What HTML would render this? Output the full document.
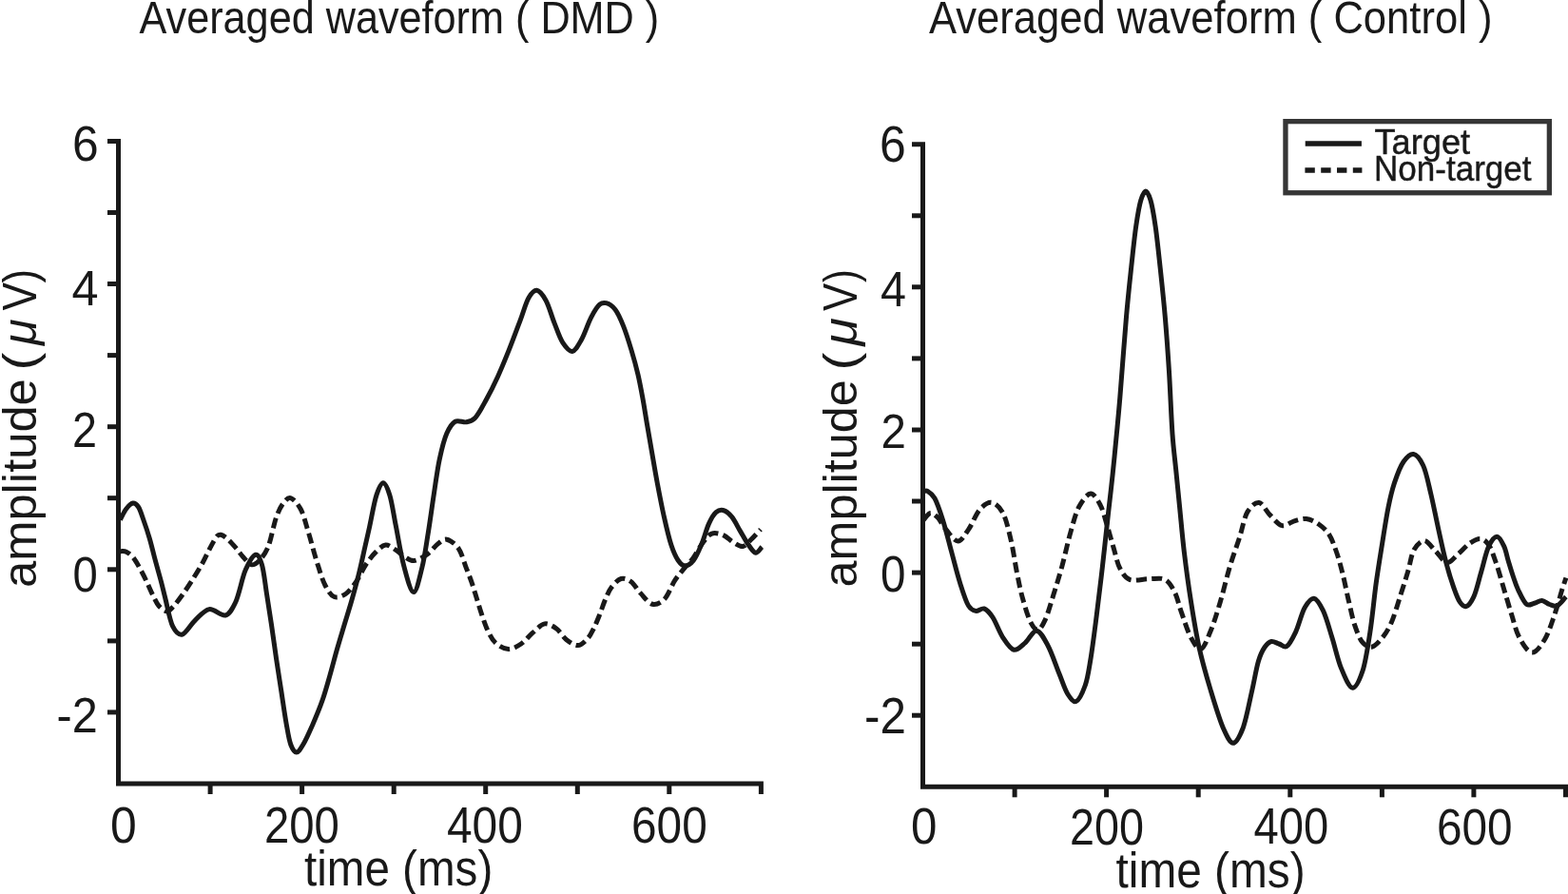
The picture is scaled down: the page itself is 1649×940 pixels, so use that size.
<!DOCTYPE html>
<html><head><meta charset="utf-8"><title>Averaged waveform</title>
<style>
html,body{margin:0;padding:0;background:#fff;}
body{width:1649px;height:940px;overflow:hidden;}
svg{display:block;}
text{font-family:"Liberation Sans",Arial,sans-serif;fill:#191919;}
</style></head><body>
<svg width="1649" height="940" viewBox="0 0 1649 940">
<rect width="1649" height="940" fill="#fff"/>
<path d="M113.0,148.4 H124.5 V824.0 H800.4 V835.0" fill="none" stroke="#191919" stroke-width="5.0" stroke-linejoin="miter" stroke-linecap="butt"/>
<line x1="113.0" y1="223.5" x2="124.5" y2="223.5" stroke="#191919" stroke-width="5.0"/>
<line x1="113.0" y1="298.5" x2="124.5" y2="298.5" stroke="#191919" stroke-width="5.0"/>
<line x1="113.0" y1="373.6" x2="124.5" y2="373.6" stroke="#191919" stroke-width="5.0"/>
<line x1="113.0" y1="448.7" x2="124.5" y2="448.7" stroke="#191919" stroke-width="5.0"/>
<line x1="113.0" y1="523.7" x2="124.5" y2="523.7" stroke="#191919" stroke-width="5.0"/>
<line x1="113.0" y1="598.8" x2="124.5" y2="598.8" stroke="#191919" stroke-width="5.0"/>
<line x1="113.0" y1="673.9" x2="124.5" y2="673.9" stroke="#191919" stroke-width="5.0"/>
<line x1="113.0" y1="748.9" x2="124.5" y2="748.9" stroke="#191919" stroke-width="5.0"/>
<line x1="221.1" y1="824.0" x2="221.1" y2="835.0" stroke="#191919" stroke-width="5.0"/>
<line x1="317.6" y1="824.0" x2="317.6" y2="835.0" stroke="#191919" stroke-width="5.0"/>
<line x1="414.2" y1="824.0" x2="414.2" y2="835.0" stroke="#191919" stroke-width="5.0"/>
<line x1="510.7" y1="824.0" x2="510.7" y2="835.0" stroke="#191919" stroke-width="5.0"/>
<line x1="607.3" y1="824.0" x2="607.3" y2="835.0" stroke="#191919" stroke-width="5.0"/>
<line x1="703.8" y1="824.0" x2="703.8" y2="835.0" stroke="#191919" stroke-width="5.0"/>
<path d="M959.0,151.7 H970.5 V827.3 H1646.5 V838.3" fill="none" stroke="#191919" stroke-width="5.0" stroke-linejoin="miter" stroke-linecap="butt"/>
<line x1="959.0" y1="226.8" x2="970.5" y2="226.8" stroke="#191919" stroke-width="5.0"/>
<line x1="959.0" y1="301.8" x2="970.5" y2="301.8" stroke="#191919" stroke-width="5.0"/>
<line x1="959.0" y1="376.9" x2="970.5" y2="376.9" stroke="#191919" stroke-width="5.0"/>
<line x1="959.0" y1="452.0" x2="970.5" y2="452.0" stroke="#191919" stroke-width="5.0"/>
<line x1="959.0" y1="527.0" x2="970.5" y2="527.0" stroke="#191919" stroke-width="5.0"/>
<line x1="959.0" y1="602.1" x2="970.5" y2="602.1" stroke="#191919" stroke-width="5.0"/>
<line x1="959.0" y1="677.2" x2="970.5" y2="677.2" stroke="#191919" stroke-width="5.0"/>
<line x1="959.0" y1="752.2" x2="970.5" y2="752.2" stroke="#191919" stroke-width="5.0"/>
<line x1="1067.1" y1="827.3" x2="1067.1" y2="838.3" stroke="#191919" stroke-width="5.0"/>
<line x1="1163.6" y1="827.3" x2="1163.6" y2="838.3" stroke="#191919" stroke-width="5.0"/>
<line x1="1260.2" y1="827.3" x2="1260.2" y2="838.3" stroke="#191919" stroke-width="5.0"/>
<line x1="1356.8" y1="827.3" x2="1356.8" y2="838.3" stroke="#191919" stroke-width="5.0"/>
<line x1="1453.4" y1="827.3" x2="1453.4" y2="838.3" stroke="#191919" stroke-width="5.0"/>
<line x1="1549.9" y1="827.3" x2="1549.9" y2="838.3" stroke="#191919" stroke-width="5.0"/>
<path d="M126.4,579.6 C128.53,579.80 130.58,579.16 132.8,580.2 C135.23,581.33 137.95,583.60 140.4,586.6 C143.06,589.85 145.74,595.13 148.1,599.4 C150.44,603.63 152.38,607.67 154.5,612.1 C156.65,616.60 158.77,621.98 160.9,626.2 C162.94,630.24 164.53,634.21 167.0,637.0 C169.37,639.68 172.76,642.70 175.3,642.8 C177.74,642.89 179.40,640.66 182.0,638.0 C185.01,634.92 188.91,629.54 192.5,624.5 C196.24,619.25 200.47,612.64 204.0,607.0 C207.45,601.49 210.57,596.34 213.5,591.0 C216.40,585.71 218.94,579.76 221.5,575.1 C223.92,570.69 226.57,565.60 228.5,563.6 C230.02,562.03 230.74,561.99 232.3,562.3 C234.06,562.65 236.31,564.18 238.7,566.2 C241.38,568.46 244.82,572.40 247.7,575.7 C250.59,579.00 253.13,582.96 256.0,586.0 C258.80,588.97 261.95,593.25 264.7,593.8 C267.26,594.31 269.40,592.58 272.0,590.0 C275.01,587.00 278.76,582.60 281.7,575.7 C285.05,567.84 287.70,551.78 290.6,543.8 C293.12,536.86 295.35,532.39 298.0,529.0 C300.36,525.98 302.67,522.89 305.5,523.6 C308.65,524.39 313.12,529.61 316.2,535.3 C319.63,541.62 321.90,551.82 324.7,560.9 C327.57,570.23 330.27,581.38 333.2,590.6 C336.04,599.54 338.75,609.22 342.0,615.5 C344.91,621.13 347.82,626.08 351.5,627.5 C355.03,628.87 359.72,627.03 363.5,624.5 C367.55,621.79 371.35,616.21 374.9,611.1 C378.57,605.82 381.62,598.40 385.1,593.2 C388.43,588.23 391.81,583.81 395.3,580.4 C398.62,577.16 402.06,573.38 405.5,573.0 C408.86,572.63 412.46,575.91 415.7,577.9 C418.96,579.90 421.72,583.05 425.0,585.0 C428.26,586.94 431.31,589.91 435.3,589.6 C439.62,589.26 445.90,585.16 450.2,582.1 C454.41,579.10 457.51,574.00 460.9,571.5 C464.02,569.20 466.46,566.59 469.8,567.2 C473.45,567.86 478.75,571.82 482.1,576.5 C485.70,581.54 487.86,590.80 490.3,597.1 C492.63,603.12 494.61,608.09 496.5,613.6 C498.38,619.09 499.88,624.60 501.6,630.1 C503.32,635.60 504.90,641.11 506.8,646.6 C508.70,652.11 510.56,658.15 513.0,663.1 C515.38,667.92 517.59,672.76 521.2,676.0 C524.80,679.22 530.12,682.34 534.6,682.5 C539.05,682.66 543.76,679.80 548.0,677.0 C552.38,674.10 556.22,668.74 560.4,665.2 C564.49,661.73 568.60,656.54 572.8,655.9 C576.88,655.28 581.46,658.31 585.2,661.0 C589.05,663.76 591.68,669.45 595.5,672.4 C599.23,675.28 604.01,678.82 607.8,678.6 C611.53,678.38 615.34,674.25 618.1,671.3 C620.83,668.38 622.29,664.98 624.3,661.0 C626.42,656.81 628.46,651.68 630.5,646.6 C632.59,641.40 634.58,635.00 636.7,630.1 C638.72,625.43 640.15,621.30 642.9,617.7 C645.65,614.10 649.68,609.46 653.2,608.5 C656.55,607.59 660.20,609.15 663.5,611.5 C667.08,614.05 670.04,619.95 673.8,623.9 C677.60,627.89 681.97,634.37 686.2,635.3 C690.24,636.19 694.83,633.84 698.6,630.1 C702.79,625.94 706.09,615.86 709.8,610.2 C713.29,604.87 716.91,600.83 720.2,596.8 C723.36,592.93 726.09,590.66 729.2,586.4 C732.54,581.84 736.25,574.30 739.6,570.0 C742.67,566.05 745.01,562.32 748.5,561.1 C751.95,559.89 756.69,561.14 760.4,562.6 C764.16,564.08 767.37,568.00 770.9,570.0 C774.34,571.95 778.09,574.99 781.3,574.5 C784.53,574.01 787.16,569.91 790.2,567.0 C793.36,563.97 796.67,560.07 799.9,556.6" fill="none" stroke="#191919" stroke-width="5.0" stroke-linejoin="round" stroke-dasharray="11 5.3"/>
<path d="M126.4,546.5 C128.53,542.67 130.47,537.94 132.8,535.0 C134.96,532.26 137.63,529.35 139.8,529.1 C141.85,528.87 143.75,530.46 145.5,533.0 C147.54,535.97 149.10,541.67 151.0,547.0 C153.02,552.65 155.28,559.30 157.3,566.2 C159.39,573.33 161.25,581.55 163.3,589.2 C165.35,596.85 167.81,605.31 169.6,612.1 C171.28,618.48 171.95,621.86 173.8,629.0 C175.87,637.00 178.43,652.35 181.7,658.7 C184.45,664.03 187.62,667.88 191.3,667.2 C195.33,666.46 200.28,656.76 205.1,652.3 C209.85,647.90 214.66,641.46 220.0,640.6 C225.30,639.75 232.37,648.26 237.0,647.0 C241.59,645.75 244.37,640.24 247.7,633.2 C251.55,625.08 254.52,607.62 258.3,599.1 C261.64,591.58 265.99,583.80 268.9,583.2 C271.55,582.65 273.50,587.57 275.3,593.2 C277.48,600.02 278.71,613.26 280.4,623.8 C282.11,634.51 283.81,645.59 285.5,657.0 C287.21,668.58 288.89,681.22 290.6,692.8 C292.29,704.21 294.00,714.95 295.7,726.0 C297.40,737.05 299.06,749.38 300.8,759.1 C302.43,768.22 303.74,777.64 305.8,783.0 C307.52,787.49 309.66,790.97 311.8,791.0 C313.96,791.03 316.13,787.22 318.7,783.0 C321.72,778.04 325.55,769.36 328.9,761.7 C332.35,753.80 336.11,744.74 339.1,736.2 C342.07,727.71 344.26,719.47 346.8,710.6 C349.39,701.58 351.93,691.51 354.5,682.5 C357.03,673.65 359.55,665.50 362.1,657.0 C364.65,648.50 367.27,640.35 369.8,631.5 C372.37,622.49 375.06,612.78 377.4,603.4 C379.73,594.04 381.91,583.64 383.8,575.3 C385.58,567.45 386.60,563.03 388.5,554.5 C390.60,545.08 393.35,528.33 396.0,520.4 C398.23,513.75 400.70,507.69 403.0,507.7 C405.30,507.71 407.74,513.96 409.8,520.4 C412.22,527.98 413.80,540.32 416.2,552.3 C418.74,564.99 421.43,582.89 424.7,594.9 C427.73,606.01 431.69,622.40 434.9,622.6 C438.05,622.80 441.30,606.89 443.8,597.0 C446.46,586.50 448.12,573.78 450.2,560.9 C452.35,547.60 454.45,531.54 456.5,518.3 C458.48,505.51 460.01,493.22 462.3,482.6 C464.48,472.52 466.86,462.51 469.8,455.8 C472.42,449.84 475.11,445.14 478.7,443.2 C482.11,441.36 487.07,444.47 490.6,443.8 C494.01,443.15 496.43,442.71 499.6,439.4 C503.33,435.50 507.59,427.07 511.5,420.0 C515.53,412.71 519.49,404.74 523.4,396.2 C527.43,387.41 531.37,377.74 535.3,367.9 C539.30,357.89 543.64,345.98 547.2,336.6 C550.57,327.72 553.06,318.04 556.2,312.8 C558.87,308.36 561.61,304.96 564.5,305.3 C567.53,305.65 571.07,310.54 574.0,315.7 C577.30,321.52 579.98,332.07 583.0,339.6 C585.95,346.95 588.57,355.36 591.9,360.4 C594.90,364.94 598.61,369.79 601.8,369.4 C605.08,369.00 608.16,362.98 611.3,357.5 C614.80,351.40 618.34,339.97 621.7,333.6 C624.75,327.82 627.77,322.57 630.6,320.2 C633.00,318.19 634.93,317.99 637.5,318.7 C640.34,319.49 644.12,321.85 647.0,325.5 C650.18,329.52 652.76,335.82 655.5,342.6 C658.44,349.86 661.43,359.59 664.0,368.1 C666.56,376.59 668.90,385.07 670.9,393.6 C672.90,402.11 674.43,410.64 676.0,419.2 C677.57,427.77 678.77,435.98 680.3,445.0 C681.87,454.23 683.50,463.68 685.3,474.0 C687.16,484.67 689.17,496.74 691.3,508.1 C693.43,519.47 695.66,531.32 698.1,542.2 C700.50,552.87 703.17,564.79 705.8,572.8 C708.15,579.94 710.43,585.26 713.0,589.0 C715.27,592.29 717.54,594.89 720.2,595.0 C722.93,595.12 726.38,592.85 729.2,589.4 C732.40,585.48 735.41,577.89 738.1,571.5 C740.85,564.98 742.89,556.20 745.5,550.6 C747.88,545.49 750.35,541.00 753.0,538.7 C755.35,536.66 757.78,535.88 760.4,536.5 C763.22,537.17 766.53,539.86 769.4,543.2 C772.53,546.85 775.33,553.13 778.3,558.1 C781.27,563.07 784.36,569.07 787.2,573.0 C789.80,576.60 792.29,580.93 794.7,581.2 C797.01,581.46 799.17,577.20 801.4,575.2" fill="none" stroke="#191919" stroke-width="5.0" stroke-linejoin="round"/>
<path d="M971.0,547.0 C973.50,544.50 975.95,539.93 978.5,539.5 C980.95,539.08 983.42,541.39 986.0,544.0 C988.90,546.93 991.46,552.87 995.0,557.0 C998.61,561.21 1003.55,569.10 1007.5,569.0 C1011.42,568.90 1014.91,561.86 1018.6,556.6 C1022.58,550.94 1026.28,540.44 1030.5,535.7 C1034.29,531.44 1038.56,527.87 1042.5,528.3 C1046.53,528.74 1051.07,532.80 1054.4,538.7 C1058.21,545.45 1060.83,558.15 1063.3,568.5 C1065.81,579.00 1067.28,591.21 1069.3,601.3 C1071.25,611.01 1072.73,619.19 1075.2,628.1 C1077.69,637.06 1081.20,649.22 1084.2,654.9 C1086.66,659.55 1089.17,662.67 1091.6,662.3 C1094.14,661.91 1096.58,657.28 1099.1,651.9 C1102.05,645.60 1105.06,634.43 1108.0,625.1 C1111.00,615.58 1113.97,606.01 1116.9,595.3 C1119.93,584.23 1122.83,570.23 1125.9,559.6 C1128.81,549.52 1131.07,539.67 1134.8,532.8 C1138.22,526.50 1143.22,519.26 1147.0,519.1 C1150.67,518.95 1154.42,525.94 1157.2,531.1 C1160.16,536.59 1161.75,544.25 1164.0,551.5 C1166.32,558.96 1168.60,567.60 1170.9,575.3 C1173.17,582.89 1174.70,591.62 1177.7,597.4 C1180.47,602.76 1183.01,607.46 1187.9,609.4 C1193.05,611.45 1201.97,608.69 1208.3,608.7 C1214.40,608.71 1220.77,607.02 1225.3,609.4 C1229.83,611.78 1232.70,617.51 1235.5,623.0 C1238.43,628.75 1239.57,635.76 1242.3,643.4 C1245.21,651.52 1248.95,663.94 1252.6,670.6 C1255.83,676.49 1259.50,683.40 1262.8,682.6 C1266.31,681.75 1269.73,671.57 1273.0,663.8 C1276.55,655.37 1279.86,644.30 1283.2,633.2 C1286.67,621.67 1289.93,607.23 1293.4,595.7 C1296.74,584.60 1300.45,574.84 1303.6,565.1 C1306.67,555.60 1308.38,544.04 1312.1,537.9 C1315.38,532.49 1320.15,528.02 1324.0,528.5 C1327.95,528.99 1331.44,537.38 1335.5,541.4 C1339.54,545.41 1343.94,551.63 1348.3,552.6 C1352.48,553.53 1356.83,548.99 1361.1,547.8 C1365.33,546.63 1369.58,544.99 1373.8,545.5 C1378.08,546.02 1382.64,548.29 1386.6,551.0 C1390.66,553.78 1394.66,557.26 1397.8,562.1 C1401.12,567.22 1403.44,574.47 1405.8,581.3 C1408.22,588.28 1410.03,595.33 1412.1,603.6 C1414.27,612.28 1416.34,623.26 1418.5,632.4 C1420.61,641.34 1422.40,650.58 1424.9,657.9 C1427.25,664.78 1429.74,671.70 1432.9,675.4 C1435.71,678.69 1439.16,680.82 1442.5,680.2 C1446.05,679.54 1450.22,674.80 1453.6,670.7 C1457.15,666.40 1460.14,661.63 1463.2,654.7 C1466.57,647.07 1469.84,635.15 1472.8,626.0 C1475.69,617.07 1478.39,608.49 1480.8,600.4 C1483.14,592.55 1484.03,583.48 1487.1,578.1 C1489.90,573.20 1494.15,568.32 1497.9,568.5 C1501.74,568.68 1505.91,575.86 1509.9,579.7 C1513.91,583.56 1517.91,591.22 1521.9,591.6 C1525.78,591.97 1529.54,585.87 1533.5,582.5 C1537.57,579.03 1541.95,573.68 1546.0,571.0 C1549.77,568.50 1553.69,566.13 1557.0,566.5 C1560.25,566.86 1563.07,569.13 1565.7,573.0 C1568.72,577.43 1571.10,585.48 1573.7,593.0 C1576.44,600.92 1579.03,610.73 1581.7,619.6 C1584.37,628.47 1587.01,637.71 1589.7,646.2 C1592.34,654.53 1594.04,663.37 1597.7,670.1 C1601.22,676.58 1606.52,685.74 1611.0,686.1 C1615.39,686.45 1620.43,679.01 1624.3,672.8 C1628.50,666.04 1631.79,655.09 1634.9,646.2 C1637.99,637.36 1640.83,626.21 1642.9,619.6 C1644.67,613.95 1645.57,611.60 1646.9,607.6" fill="none" stroke="#191919" stroke-width="5.0" stroke-linejoin="round" stroke-dasharray="11 5.3"/>
<path d="M972.4,516.4 C973.40,516.40 973.99,515.56 975.4,516.4 C977.22,517.48 980.41,519.41 982.9,523.8 C985.88,529.03 988.91,538.60 991.8,547.7 C994.86,557.33 997.72,569.49 1000.7,580.4 C1003.68,591.32 1006.63,603.57 1009.7,613.2 C1012.60,622.29 1015.58,632.22 1018.6,637.0 C1021.07,640.90 1023.37,641.90 1026.1,642.4 C1028.83,642.90 1032.12,639.06 1035.0,640.0 C1038.06,641.00 1040.87,644.44 1043.9,648.9 C1047.32,653.95 1050.55,663.99 1054.4,669.8 C1058.05,675.31 1062.23,682.35 1066.3,683.2 C1070.17,684.01 1074.31,679.03 1078.2,675.8 C1082.25,672.43 1086.18,662.83 1090.1,663.2 C1094.12,663.58 1098.20,671.72 1102.0,678.7 C1106.20,686.42 1110.41,699.75 1114.0,708.5 C1117.36,716.71 1119.82,725.13 1123.0,730.0 C1125.76,734.23 1128.81,738.60 1131.7,737.5 C1134.91,736.28 1138.82,727.43 1141.3,720.5 C1143.95,713.10 1144.95,705.06 1146.8,694.0 C1148.85,681.74 1150.94,665.07 1153.0,649.0 C1155.14,632.38 1157.33,613.79 1159.4,595.7 C1161.49,577.46 1163.69,556.33 1165.5,540.0 C1167.19,524.71 1168.54,513.78 1170.0,500.0 C1171.48,486.00 1172.99,470.37 1174.3,456.6 C1175.58,443.17 1176.29,436.32 1177.8,418.3 C1179.57,397.16 1182.45,356.57 1184.5,333.2 C1186.35,312.09 1187.87,298.18 1189.6,282.1 C1191.28,266.47 1192.91,250.15 1194.7,237.9 C1196.33,226.75 1197.91,216.81 1199.8,210.6 C1201.37,205.46 1203.20,201.10 1204.9,201.1 C1206.60,201.10 1208.43,205.46 1210.0,210.6 C1211.89,216.81 1213.47,226.75 1215.1,237.9 C1216.89,250.15 1218.52,266.47 1220.2,282.1 C1221.93,298.18 1223.76,315.29 1225.3,333.2 C1226.87,351.55 1228.23,370.72 1229.5,391.0 C1230.80,411.80 1231.71,438.75 1233.0,456.6 C1234.16,472.65 1235.53,482.23 1236.8,495.0 C1238.07,507.76 1239.22,519.37 1240.6,533.2 C1242.04,547.61 1243.34,563.58 1245.3,580.0 C1247.32,596.86 1249.93,616.23 1252.6,633.2 C1255.21,649.83 1257.67,665.50 1261.1,680.9 C1264.49,696.12 1268.72,710.84 1273.0,725.1 C1277.23,739.19 1282.34,756.48 1286.6,766.0 C1290.19,774.03 1293.40,781.30 1296.8,781.3 C1300.20,781.30 1303.92,773.88 1307.0,766.0 C1310.60,756.79 1313.71,739.04 1316.5,727.0 C1319.18,715.44 1321.08,702.94 1323.5,695.0 C1325.60,688.13 1327.59,683.96 1330.0,680.5 C1332.17,677.39 1334.55,675.06 1337.1,674.5 C1339.59,673.95 1342.43,676.15 1345.1,677.0 C1347.77,677.85 1350.40,681.16 1353.1,679.6 C1356.25,677.79 1359.64,670.72 1362.7,664.3 C1366.03,657.33 1368.76,644.62 1372.2,638.7 C1375.19,633.56 1378.65,628.79 1381.8,629.2 C1385.05,629.62 1388.38,635.70 1391.4,641.9 C1394.83,648.95 1397.85,660.68 1401.0,670.7 C1404.21,680.90 1406.78,693.65 1410.5,702.6 C1413.98,710.97 1418.61,722.96 1422.4,723.3 C1426.07,723.63 1429.95,714.47 1432.9,705.8 C1436.31,695.77 1438.55,679.38 1440.9,664.3 C1443.34,648.61 1445.04,628.89 1447.2,613.2 C1449.28,598.13 1451.45,585.10 1453.6,571.7 C1455.72,558.51 1457.78,544.31 1460.0,533.4 C1462.06,523.31 1463.70,515.94 1466.4,507.9 C1469.05,499.98 1472.40,490.60 1476.0,485.5 C1479.19,480.98 1483.12,476.98 1486.5,477.5 C1489.99,478.03 1493.72,483.23 1496.6,489.3 C1499.90,496.24 1501.99,507.73 1504.6,518.5 C1507.33,529.77 1509.93,543.65 1512.6,555.7 C1515.23,567.58 1517.78,579.90 1520.5,590.3 C1523.09,600.20 1525.94,609.61 1528.5,616.9 C1530.83,623.54 1532.79,629.43 1535.2,632.9 C1537.27,635.88 1539.49,638.33 1541.8,637.7 C1544.33,637.01 1547.31,632.92 1549.8,627.6 C1552.71,621.39 1555.15,609.87 1557.8,601.0 C1560.45,592.13 1562.70,580.60 1565.7,574.4 C1568.29,569.05 1571.62,564.26 1574.3,564.3 C1576.95,564.34 1579.73,570.27 1581.7,574.4 C1583.78,578.75 1584.71,584.75 1586.3,590.0 C1587.90,595.28 1589.58,600.95 1591.3,606.0 C1592.98,610.94 1594.18,615.18 1596.5,620.0 C1598.90,625.00 1602.52,633.40 1605.6,635.5 C1608.23,637.29 1610.94,634.86 1613.6,634.2 C1616.28,633.53 1618.95,631.30 1621.6,631.5 C1624.28,631.70 1626.91,634.60 1629.6,635.5 C1632.24,636.38 1634.86,638.00 1637.6,636.9 C1640.61,635.69 1643.80,630.70 1646.9,627.6" fill="none" stroke="#191919" stroke-width="5.0" stroke-linejoin="round"/>
<text x="146.5" y="35.3" font-size="47.5" textLength="546.7" lengthAdjust="spacingAndGlyphs">Averaged waveform ( DMD )</text>
<text x="977.0" y="34.9" font-size="47.5" textLength="592.48" lengthAdjust="spacingAndGlyphs">Averaged waveform ( Control )</text>
<text x="76.0" y="169.0" font-size="51.65" textLength="27.68" lengthAdjust="spacingAndGlyphs">6</text>
<text x="75.5" y="321.0" font-size="52.21" textLength="28.06" lengthAdjust="spacingAndGlyphs">4</text>
<text x="76.0" y="469.5" font-size="51.65" textLength="26.01" lengthAdjust="spacingAndGlyphs">2</text>
<text x="76.5" y="622.0" font-size="52.51" textLength="26.3" lengthAdjust="spacingAndGlyphs">0</text>
<text x="59.5" y="769.5" font-size="52.22" textLength="43.16" lengthAdjust="spacingAndGlyphs">-2</text>
<text x="925.0" y="170.0" font-size="53.96" textLength="27.75" lengthAdjust="spacingAndGlyphs">6</text>
<text x="926.0" y="322.0" font-size="51.92" textLength="26.99" lengthAdjust="spacingAndGlyphs">4</text>
<text x="926.5" y="471.0" font-size="49.59" textLength="26.38" lengthAdjust="spacingAndGlyphs">2</text>
<text x="926.0" y="622.0" font-size="53.09" textLength="26.47" lengthAdjust="spacingAndGlyphs">0</text>
<text x="909.0" y="771.0" font-size="52.79" textLength="43.85" lengthAdjust="spacingAndGlyphs">-2</text>
<text x="116.0" y="886.0" font-size="53.0" textLength="27.73" lengthAdjust="spacingAndGlyphs">0</text>
<text x="278.0" y="885.5" font-size="53.59" textLength="78.89" lengthAdjust="spacingAndGlyphs">200</text>
<text x="470.0" y="885.5" font-size="53.59" textLength="79.85" lengthAdjust="spacingAndGlyphs">400</text>
<text x="664.0" y="886.0" font-size="53.0" textLength="79.71" lengthAdjust="spacingAndGlyphs">600</text>
<text x="958.0" y="887.0" font-size="53.59" textLength="27.42" lengthAdjust="spacingAndGlyphs">0</text>
<text x="1125.0" y="888.0" font-size="53.3" textLength="78.03" lengthAdjust="spacingAndGlyphs">200</text>
<text x="1318.5" y="887.0" font-size="53.88" textLength="78.63" lengthAdjust="spacingAndGlyphs">400</text>
<text x="1511.0" y="888.0" font-size="53.88" textLength="79.63" lengthAdjust="spacingAndGlyphs">600</text>
<text x="320.0" y="931.2" font-size="51.0" textLength="198.24" lengthAdjust="spacingAndGlyphs">time (ms)</text>
<text x="1173.5" y="933.3" font-size="51.0" textLength="199.19" lengthAdjust="spacingAndGlyphs">time (ms)</text>
<text transform="translate(37.80,618.00) rotate(-90)" font-size="50.5" textLength="219.79" lengthAdjust="spacingAndGlyphs">amplitude</text>
<text transform="translate(37.80,389.50) rotate(-90)" font-size="50.5" textLength="18.93" lengthAdjust="spacingAndGlyphs">(</text>
<text transform="translate(37.80,363.00) rotate(-90)" font-size="50.5" textLength="27.67" lengthAdjust="spacingAndGlyphs" font-style="italic">&#956;</text>
<text transform="translate(37.80,326.50) rotate(-90)" font-size="50.5" textLength="29.51" lengthAdjust="spacingAndGlyphs">V</text>
<text transform="translate(37.80,297.50) rotate(-90)" font-size="50.5" textLength="14.55" lengthAdjust="spacingAndGlyphs">)</text>
<text transform="translate(900.50,617.50) rotate(-90)" font-size="50.5" textLength="218.36" lengthAdjust="spacingAndGlyphs">amplitude</text>
<text transform="translate(900.50,389.50) rotate(-90)" font-size="50.5" textLength="18.93" lengthAdjust="spacingAndGlyphs">(</text>
<text transform="translate(900.50,363.50) rotate(-90)" font-size="50.5" textLength="29.32" lengthAdjust="spacingAndGlyphs" font-style="italic">&#956;</text>
<text transform="translate(900.50,327.00) rotate(-90)" font-size="50.5" textLength="29.21" lengthAdjust="spacingAndGlyphs">V</text>
<text transform="translate(900.50,297.00) rotate(-90)" font-size="50.5" textLength="13.73" lengthAdjust="spacingAndGlyphs">)</text>
<rect x="1351.95" y="127.65" width="277.4" height="75.1" fill="#fff" stroke="#363636" stroke-width="5.3"/>
<line x1="1372.7" y1="150.9" x2="1431.9" y2="150.9" stroke="#191919" stroke-width="5.5"/>
<line x1="1372.4" y1="179" x2="1432.4" y2="179" stroke="#191919" stroke-width="5.5" stroke-dasharray="10.4 6.4"/>
<text x="1445.5" y="161.7" font-size="36.5" textLength="100.65" lengthAdjust="spacingAndGlyphs" stroke="#191919" stroke-width="0.45">Target</text>
<text x="1445.0" y="189.5" font-size="36.5" textLength="165.52" lengthAdjust="spacingAndGlyphs" stroke="#191919" stroke-width="0.45">Non-target</text>
</svg>
</body></html>
